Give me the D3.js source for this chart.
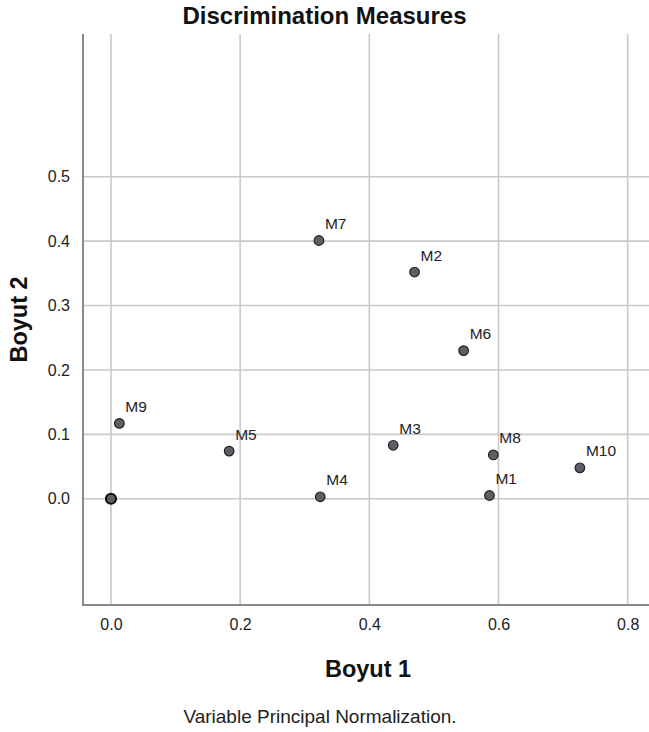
<!DOCTYPE html>
<html>
<head>
<meta charset="utf-8">
<script src="https://cdn.jsdelivr.net/npm/d3@7"></script>
<style>
    body { margin: 0; background: #fff; }
    text { font-family: "Liberation Sans", Arial, sans-serif; }
</style>
</head>
<body>
<div id="chart"></div>
<script>
// data
var labels = ["M1", "M2", "M3", "M4", "M5", "M6", "M7", "M8", "M9", "M10"];
var dim1 = [0.586, 0.470, 0.437, 0.324, 0.183, 0.546, 0.322, 0.592, 0.013, 0.726];
var dim2 = [0.005, 0.352, 0.083, 0.003, 0.074, 0.230, 0.401, 0.068, 0.117, 0.048];
var origin = [[0, 0]];
var xTicks = [0.0, 0.2, 0.4, 0.6, 0.8];
var yTicks = [0.0, 0.1, 0.2, 0.3, 0.4, 0.5];

var width = 649, height = 732;
// plot frame (window.top is reserved, so use other names)
var plotLeft = 83, plotRight = 649, plotTop = 34, plotBottom = 605;

var svg = d3.select("#chart")
    .append("svg")
    .attr("width", width)
    .attr("height", height);

// scales
var xScale = d3.scaleLinear().domain([-0.0433, 0.833]).range([plotLeft, plotRight]);
var yScale = d3.scaleLinear().domain([-0.165, 0.7216]).range([plotBottom, plotTop]);

// grid
svg.append("g").selectAll("line")
    .data(xTicks)
    .enter().append("line")
    .attr("x1", function (d) { return xScale(d); })
    .attr("x2", function (d) { return xScale(d); })
    .attr("y1", plotTop)
    .attr("y2", plotBottom)
    .attr("stroke", "#c9c9c9")
    .attr("stroke-width", 1.6);

svg.append("g").selectAll("line")
    .data(yTicks)
    .enter().append("line")
    .attr("x1", plotLeft)
    .attr("x2", plotRight)
    .attr("y1", function (d) { return yScale(d); })
    .attr("y2", function (d) { return yScale(d); })
    .attr("stroke", "#c9c9c9")
    .attr("stroke-width", 1.6);

// axes
var xAxis = d3.axisBottom(xScale).tickValues(xTicks).tickFormat(d3.format(".1f")).tickSize(0).tickPadding(14);
var yAxis = d3.axisLeft(yScale).tickValues(yTicks).tickFormat(d3.format(".1f")).tickSize(0).tickPadding(13);

var gx = svg.append("g")
    .attr("transform", "translate(0," + plotBottom + ")")
    .call(xAxis);
var gy = svg.append("g")
    .attr("transform", "translate(" + plotLeft + ",0)")
    .call(yAxis);

gx.select(".domain").remove();
gy.select(".domain").remove();
svg.selectAll(".tick text")
    .attr("font-size", 16)
    .attr("fill", "#222")
    .attr("font-family", "Liberation Sans, Arial, sans-serif");

svg.append("line")
    .attr("x1", plotLeft).attr("x2", plotLeft)
    .attr("y1", plotTop).attr("y2", plotBottom + 1)
    .attr("stroke", "#8a8a8a")
    .attr("stroke-width", 2);
svg.append("line")
    .attr("x1", plotLeft).attr("x2", plotRight)
    .attr("y1", plotBottom).attr("y2", plotBottom)
    .attr("stroke", "#8a8a8a")
    .attr("stroke-width", 2);

// origin marker
svg.append("g").selectAll("circle")
    .data(origin)
    .enter().append("circle")
    .attr("cx", function (d) { return xScale(d[0]); })
    .attr("cy", function (d) { return yScale(d[1]); })
    .attr("r", 5)
    .attr("fill", "#5b5f66")
    .attr("stroke", "#111")
    .attr("stroke-width", 2.2);

// points
var pts = svg.append("g").selectAll("g")
    .data(labels)
    .enter().append("g");

pts.append("circle")
    .attr("cx", function (d, i) { return xScale(dim1[i]); })
    .attr("cy", function (d, i) { return yScale(dim2[i]); })
    .attr("r", 4.8)
    .attr("fill", "#5b5f66")
    .attr("stroke", "#222")
    .attr("stroke-width", 1.2);

pts.append("text")
    .attr("x", function (d, i) { return xScale(dim1[i]) + 6; })
    .attr("y", function (d, i) { return yScale(dim2[i]) - 11.5; })
    .attr("font-size", 15.5)
    .attr("fill", "#222")
    .text(function (d) { return d; });

// titles
svg.append("text")
    .attr("x", width / 2)
    .attr("y", 24)
    .attr("text-anchor", "middle")
    .attr("font-size", 24)
    .attr("font-weight", "bold")
    .attr("fill", "#111")
    .text("Discrimination Measures");

svg.append("text")
    .attr("x", (plotLeft + plotRight) / 2 + 2)
    .attr("y", 677)
    .attr("text-anchor", "middle")
    .attr("font-size", 23.5)
    .attr("font-weight", "bold")
    .attr("fill", "#111")
    .text("Boyut 1");

svg.append("text")
    .attr("transform", "translate(26.5," + ((plotTop + plotBottom) / 2) + ") rotate(-90)")
    .attr("text-anchor", "middle")
    .attr("font-size", 23.5)
    .attr("font-weight", "bold")
    .attr("fill", "#111")
    .text("Boyut 2");

svg.append("text")
    .attr("x", 320)
    .attr("y", 723)
    .attr("text-anchor", "middle")
    .attr("font-size", 19)
    .attr("fill", "#222")
    .text("Variable Principal Normalization.");
</script>
</body>
</html>
